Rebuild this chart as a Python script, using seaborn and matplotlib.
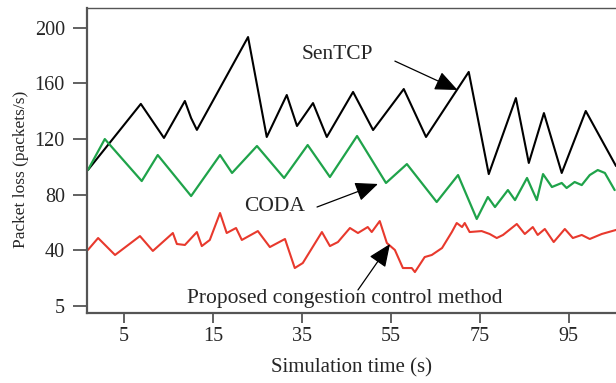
import pandas as pd
import matplotlib.pyplot as plt
import seaborn as sns

# Values (x in axis units, y in packets/s)
sentcp_t = [-13.1, -1.2, 4.0, 8.7, 10.1, 11.4, 22.9, 27.1, 31.6, 33.9, 37.5, 40.6, 46.5, 51.0,
            57.9, 62.9, 72.5, 77.0, 83.1, 86.0, 89.4, 93.4, 98.8, 105.6]
sentcp_v = [97.6, 145.2, 120.7, 147.3, 135.0, 126.5, 193.3, 121.4, 151.6, 129.3, 145.8, 121.4, 153.8, 126.4,
            155.9, 121.4, 168.2, 94.7, 149.4, 102.7, 138.6, 95.5, 140.1, 100.5]

coda_t = [-13.1, -9.3, -1.0, 2.6, 10.1, 16.6, 19.3, 24.9, 31.0, 36.3, 41.3, 47.4, 53.9, 58.6, 65.3, 70.1,
          74.3, 76.8, 78.4, 81.3, 82.9, 85.6, 87.8, 89.2, 91.2, 93.4, 94.5, 96.3, 97.9, 99.7, 101.5, 103.1, 105.3]
coda_v = [97.6, 119.9, 89.7, 108.4, 78.9, 108.4, 95.5, 114.9, 91.9, 115.6, 92.6, 122.1, 88.3, 101.9, 74.6, 94.0,
          62.4, 78.2, 71.0, 83.2, 76.0, 91.9, 76.0, 94.7, 85.4, 88.3, 84.7, 89.0, 86.8, 94.0, 97.6, 95.5, 83.2]

proposed_t = [-13.1, -10.8, -7.0, -1.4, 1.5, 6.0, 6.9, 8.7, 11.4, 12.5, 14.3, 16.6, 18.1, 20.2, 21.5, 25.1,
              27.8, 31.2, 33.4, 35.2, 39.5, 41.3, 43.1, 45.8, 47.6, 49.8, 50.7, 52.5, 54.1, 55.9, 57.7, 59.7,
              60.4, 62.6, 64.2, 66.5, 68.7, 69.8, 71.0, 71.6, 72.7, 75.4, 77.2, 78.8, 80.2, 83.3, 85.1, 86.9,
              88.0, 89.6, 91.6, 94.1, 95.9, 97.9, 99.7, 102.4, 105.6]
proposed_v = [40.1, 48.7, 36.5, 50.1, 39.4, 52.3, 44.4, 43.7, 53.0, 42.9, 47.3, 66.7, 52.3, 55.9, 47.3, 53.7,
              42.2, 48.0, 27.1, 30.7, 53.0, 42.9, 45.8, 55.9, 52.3, 56.6, 53.0, 60.9, 45.1, 40.1, 27.1, 27.1,
              24.2, 35.0, 36.5, 41.5, 53.0, 59.5, 56.6, 59.5, 53.0, 53.7, 51.6, 48.7, 50.9, 58.8, 51.6, 56.6,
              50.9, 55.2, 45.8, 55.2, 48.7, 50.9, 48.0, 51.6, 54.5]

x_ticks = [-5, 15, 35, 55, 75, 95]
x_tick_labels = ['5', '15', '35', '55', '75', '95']
y_ticks = [0, 40, 80, 120, 160, 200]
y_tick_labels = ['5', '40', '80', '120', '160', '200']


def make_plot():
    sns.set_style('ticks')
    plt.rcParams['font.family'] = ['Liberation Serif', 'DejaVu Serif']

    fig = plt.figure(figsize=(6.16, 3.83), dpi=100)
    ax = fig.add_axes([87 / 616, 1 - 313 / 383, 1 - 87 / 616, 305 / 383])

    sns.lineplot(x=sentcp_t, y=sentcp_v, color='black', linewidth=1.5, ax=ax, sort=False)
    sns.lineplot(x=coda_t, y=coda_v, color='#1fa34a', linewidth=1.6, ax=ax, sort=False)
    sns.lineplot(x=proposed_t, y=proposed_v, color='#e8392d', linewidth=1.5, ax=ax, sort=False)

    ax.set_xlim(-13.3, 105.6)
    ax.set_ylim(-5.25, 214.2)
    ax.set_xticks(x_ticks)
    ax.set_xticklabels(x_tick_labels)
    ax.set_yticks(y_ticks)
    ax.set_yticklabels(y_tick_labels)
    ax.tick_params(axis='x', length=7, width=1.3, color='#555555', pad=3, labelsize=14.5)
    ax.tick_params(axis='y', length=10, width=1.3, color='#555555', pad=6, labelsize=14.5)

    for side in ['left', 'bottom']:
        ax.spines[side].set_color('#555555')
        ax.spines[side].set_linewidth(1.6)
    ax.spines['top'].set_color('#555555')
    ax.spines['top'].set_linewidth(1.0)
    ax.spines['right'].set_visible(False)

    ax.set_xlabel('Simulation time (s)', fontsize=15, labelpad=9)
    ax.set_ylabel('Packet loss (packets/s)', fontsize=12.5)
    ax.yaxis.set_label_coords(-0.11, 0.47)

    arrow = dict(arrowstyle='-|>,head_length=1.4,head_width=0.6', color='black', lw=0.9,
                 shrinkA=0, shrinkB=0)
    ax.annotate('SenTCP', xy=(70.0, 155.2), xytext=(42.9, 180.4), fontsize=15.5,
                ha='center', va='center')
    ax.annotate('', xy=(70.0, 155.2), xytext=(55.9, 176.0), arrowprops=arrow)
    ax.annotate('CODA', xy=(52.1, 87.6), xytext=(28.9, 71.7), fontsize=15.5,
                ha='center', va='center')
    ax.annotate('', xy=(52.1, 87.6), xytext=(38.4, 71.0), arrowprops=arrow)
    ax.annotate('Proposed congestion control method', xy=(54.8, 44.4), xytext=(44.7, 5.5),
                fontsize=15.5, ha='center', va='center')
    ax.annotate('', xy=(54.8, 44.4), xytext=(47.6, 11.3), arrowprops=arrow)

    plt.savefig('out.png', dpi=100)


if __name__ == '__main__':
    make_plot()
